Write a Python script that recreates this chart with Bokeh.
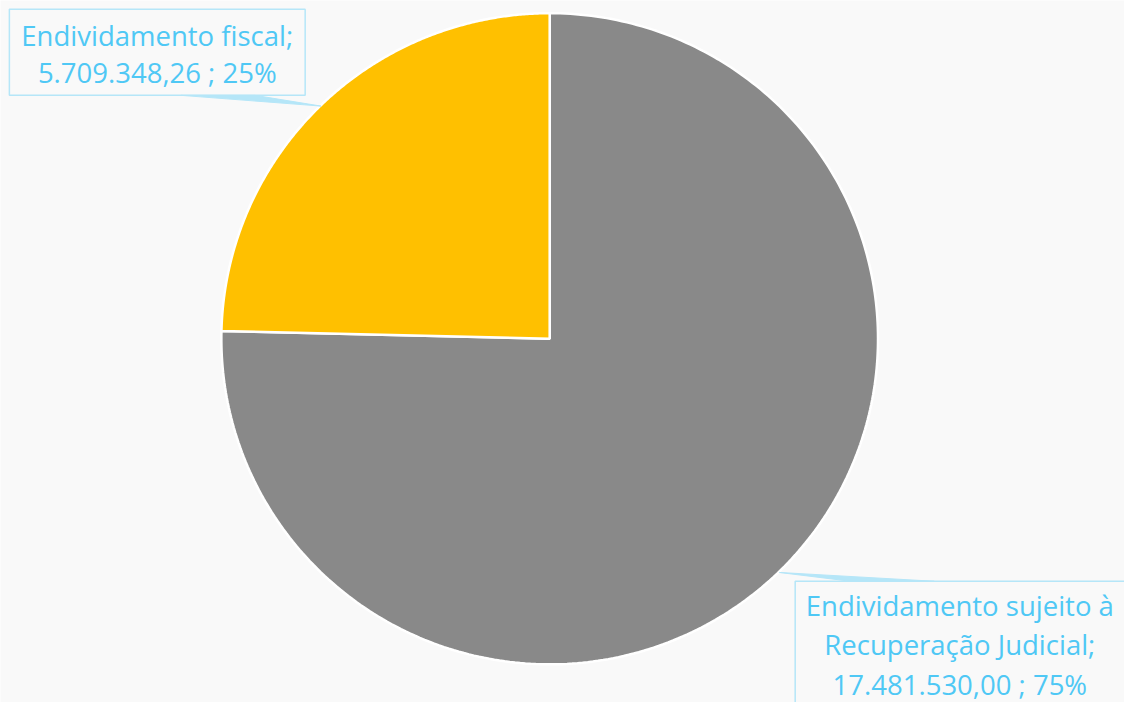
import numpy as np
from bokeh.plotting import figure
from bokeh.models import Range1d
from bokeh.core.properties import value
from bokeh.embed import file_html
from bokeh.resources import INLINE

categories = ["Endividamento sujeito à Recuperação Judicial", "Endividamento fiscal"]
amounts = [17481530.00, 5709348.26]
amount_labels = ["17.481.530,00", "5.709.348,26"]
pct_labels = ["75%", "25%"]
colors = ["#898989", "#FFC000"]
label_lines = [
    ["Endividamento sujeito à", "Recuperação Judicial;", "17.481.530,00 ; 75%"],
    ["Endividamento fiscal;", "5.709.348,26 ; 25%"],
]

W, H = 1124, 702
p = figure(width=W, height=H, output_backend="svg", toolbar_location=None,
           x_range=Range1d(0, 1140), y_range=Range1d(718, 0),
           min_border=0)
p.axis.visible = False
p.grid.visible = False
p.outline_line_color = None
p.background_fill_color = "#F9F9F9"
p.border_fill_color = "#F9F9F9"

cx, cy, r = 557, 346, 333
total = sum(amounts)
start = 90.0  # degrees, 12 o'clock, going clockwise
xs, ys = [], []
for a in amounts:
    sweep = a / total * 360.0
    th = np.radians(np.linspace(start, start - sweep, 300))
    x = np.concatenate([[cx], cx + r * np.cos(th), [cx]])
    y = np.concatenate([[cy], cy - r * np.sin(th), [cy]])
    xs.append(list(x)); ys.append(list(y))
    start -= sweep
p.patches(xs, ys, fill_color=colors, line_color="white", line_width=2.5)

text_color = "#4FC8F5"
border_color = "#B5E6F8"
font = value("Open Sans")

# label 1 (fiscal) top-left
p.patch([183, 258, 325], [97, 97, 108], fill_color=border_color, line_color=border_color, line_width=1)
p.quad(left=[9], right=[309], top=[9], bottom=[97], fill_color=None, line_color=border_color, line_width=1.5)
p.text(x=[159, 159], y=[36, 74], text=label_lines[1], text_align="center", text_baseline="middle",
       text_font=font, text_font_size="27.5px", text_color=text_color)

# label 2 (RJ) bottom-right
p.patch([790, 862, 947], [585, 594, 594], fill_color=border_color, line_color=border_color, line_width=1)
p.quad(left=[806], right=[1160], top=[594], bottom=[740], fill_color=None, line_color=border_color, line_width=1.5)
p.text(x=[973, 973, 973], y=[619, 659, 700], text=label_lines[0], text_align="center", text_baseline="middle",
       text_font=font, text_font_size="27.5px", text_color=text_color)

open("out.html", "w").write(file_html(p, INLINE))
